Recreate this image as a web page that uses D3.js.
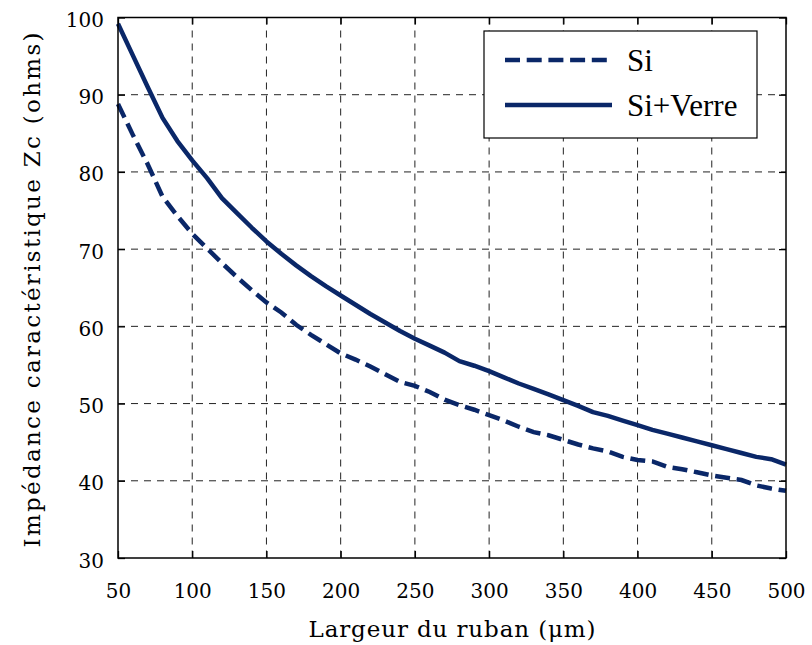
<!DOCTYPE html>
<html>
<head>
<meta charset="utf-8">
<script src="https://cdn.jsdelivr.net/npm/d3@7"></script>
</head>
<body style="margin:0;background:#fff">
<svg id="chart" width="812" height="645" style="display:block"></svg>
<script>
// ---- data ----
const widths = d3.range(50, 501, 10); // Largeur du ruban (µm)
const zcSi = [88.8, 84.8, 81.0, 76.8, 74.3, 72.0, 70.1, 68.2, 66.4, 64.7,
              63.1, 61.8, 60.2, 58.9, 57.7, 56.5, 55.7, 54.8, 53.8, 52.8,
              52.3, 51.5, 50.5, 49.8, 49.2, 48.5, 47.8, 47.0, 46.3, 45.9,
              45.3, 44.7, 44.2, 43.8, 43.1, 42.7, 42.5, 41.8, 41.5, 41.1,
              40.7, 40.4, 40.1, 39.4, 39.0, 38.7];
const zcSiVerre = [99.2, 95.1, 91.0, 87.0, 84.0, 81.5, 79.2, 76.6, 74.7, 72.8,
                   71.0, 69.4, 67.9, 66.5, 65.2, 64.0, 62.8, 61.6, 60.5, 59.4,
                   58.4, 57.5, 56.6, 55.5, 54.9, 54.2, 53.4, 52.6, 51.9, 51.2,
                   50.45, 49.7, 48.9, 48.4, 47.8, 47.2, 46.6, 46.1, 45.6, 45.1,
                   44.6, 44.1, 43.6, 43.1, 42.8, 42.1];
const xTicks = [50, 100, 150, 200, 250, 300, 350, 400, 450, 500];
const yTicks = [30, 40, 50, 60, 70, 80, 90, 100];
const seriesNames = ["Si", "Si+Verre"];
const xLabel = "Largeur du ruban (\u03bcm)";
const yLabel = "Imp\u00e9dance caract\u00e9ristique Zc (ohms)";

// ---- layout ----
const W = 812, H = 645;
const m = { left: 118, right: 26, top: 17.5, bottom: 87 };
const pw = W - m.left - m.right, ph = H - m.top - m.bottom;
const navy = "#0a2768";
const axisFont = "DejaVu Serif";
const legendFont = "Liberation Serif";

const svg = d3.select("#chart");
const g = svg.append("g").attr("transform", `translate(${m.left},${m.top})`);

const x = d3.scaleLinear().domain([50, 500]).range([0, pw]);
const y = d3.scaleLinear().domain([30, 100]).range([ph, 0]);

// grid
const gridDash = "7,6";
g.append("g").selectAll("line").data(xTicks.slice(1, -1)).join("line")
  .attr("x1", d => x(d)).attr("x2", d => x(d)).attr("y1", 0).attr("y2", ph)
  .attr("stroke", "#222").attr("stroke-width", 1).attr("stroke-dasharray", gridDash);
g.append("g").selectAll("line").data(yTicks.slice(1, -1)).join("line")
  .attr("y1", d => y(d)).attr("y2", d => y(d)).attr("x1", 0).attr("x2", pw)
  .attr("stroke", "#222").attr("stroke-width", 1).attr("stroke-dasharray", gridDash);

// axes with inward ticks on all four sides
const tickLen = 7;
const styleAxis = sel => {
  sel.select(".domain").remove();
  sel.selectAll(".tick line").attr("stroke", "#000").attr("stroke-width", 1.3);
};
const xb = g.append("g").attr("transform", `translate(0,${ph})`)
  .call(d3.axisBottom(x).tickValues(xTicks).tickSizeInner(-tickLen).tickSizeOuter(0));
xb.call(styleAxis);
xb.selectAll(".tick text").attr("font-size", 20)
  .attr("dy", 0).attr("y", 598 - m.top - ph)
  .style("font-family", axisFont).style("fill", "#000");
const xt = g.append("g").call(d3.axisTop(x).tickValues(xTicks).tickSizeInner(-tickLen).tickSizeOuter(0).tickFormat(""));
xt.call(styleAxis);
const yl = g.append("g").call(d3.axisLeft(y).tickValues(yTicks).tickSizeInner(-tickLen).tickSizeOuter(0));
yl.call(styleAxis);
yl.selectAll(".tick text").attr("font-size", 20)
  .attr("x", -14).attr("dy", "0.45em")
  .style("font-family", axisFont).style("fill", "#000");
const yr = g.append("g").attr("transform", `translate(${pw},0)`)
  .call(d3.axisRight(y).tickValues(yTicks).tickSizeInner(-tickLen).tickSizeOuter(0).tickFormat(""));
yr.call(styleAxis);

// lines
const lineGen = d3.line().x((d, i) => x(widths[i])).y(d => y(d));
g.append("path").datum(zcSi).attr("d", lineGen)
  .attr("fill", "none").attr("stroke", navy).attr("stroke-width", 4.5)
  .attr("stroke-dasharray", "15,6.7");
g.append("path").datum(zcSiVerre).attr("d", lineGen)
  .attr("fill", "none").attr("stroke", navy).attr("stroke-width", 4.5)
  .attr("stroke-linejoin", "round");

// frame
g.append("rect").attr("x", 0).attr("y", 0).attr("width", pw).attr("height", ph)
  .attr("fill", "none").attr("stroke", "#000").attr("stroke-width", 1.5);

// legend
const lg = svg.append("g");
lg.append("rect").attr("x", 484).attr("y", 31).attr("width", 273).attr("height", 107)
  .attr("fill", "#fff").attr("stroke", "#000").attr("stroke-width", 1.2);
const legendRows = [
  { name: seriesNames[0], dash: "15,6.7", yy: 60 },
  { name: seriesNames[1], dash: null, yy: 105 }
];
legendRows.forEach(r => {
  lg.append("line").attr("x1", 505).attr("x2", 612).attr("y1", r.yy).attr("y2", r.yy)
    .attr("stroke", navy).attr("stroke-width", 4.5)
    .attr("stroke-dasharray", r.dash);
  lg.append("text").attr("x", 627).attr("y", r.yy + 11).attr("font-size", 31)
    .style("font-family", legendFont).style("fill", "#000").text(r.name);
});

// axis labels
svg.append("text").attr("x", 452).attr("y", 637).attr("text-anchor", "middle")
  .attr("font-size", 23).attr("textLength", 287).attr("lengthAdjust", "spacing")
  .style("font-family", axisFont).style("fill", "#000").text(xLabel);
svg.append("text").attr("transform", "translate(40,290) rotate(-90)").attr("text-anchor", "middle")
  .attr("font-size", 23).attr("textLength", 515).attr("lengthAdjust", "spacing")
  .style("font-family", axisFont).style("fill", "#000").text(yLabel);
</script>
</body>
</html>
